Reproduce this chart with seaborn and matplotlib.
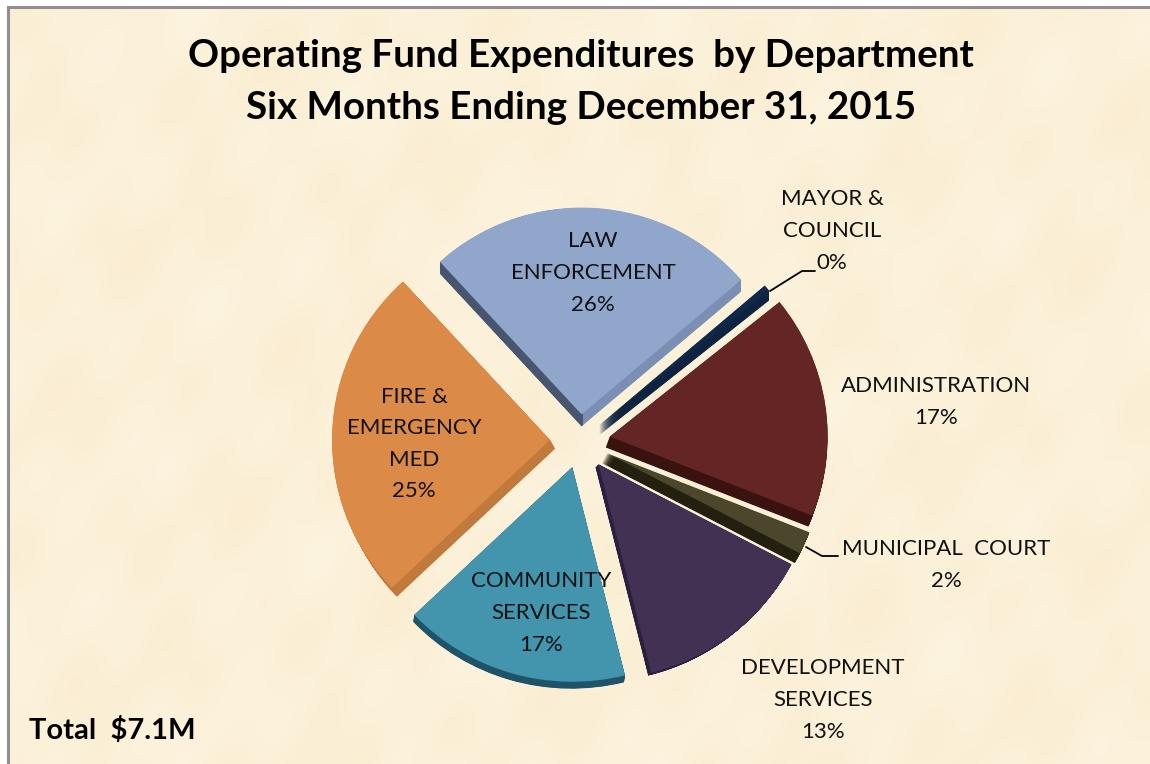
import numpy as np
import matplotlib
matplotlib.use("Agg")
import matplotlib.pyplot as plt
from matplotlib.patches import Wedge, Rectangle
import seaborn as sns

departments = ["MAYOR &\nCOUNCIL", "ADMINISTRATION", "MUNICIPAL  COURT", "DEVELOPMENT\nSERVICES",
               "COMMUNITY\nSERVICES", "FIRE &\nEMERGENCY\nMED", "LAW\nENFORCEMENT"]
values = [0.49, 16.8, 1.7, 13.4, 16.8, 25.3, 25.51]
title_lines = "Operating Fund Expenditures  by Department\nSix Months Ending December 31, 2015"
total_text = "Total  $7.1M"

top_colors = ["#10294A", "#632624", "#4C472C", "#433154", "#4395AE", "#DB8B47", "#90A6CB"]
side_colors = ["#0D2340", "#3A1210", "#23200F", "#2A1F3E", "#1F5468", "#C27A3C", "#7A8FB3"]
explode = [25, 30, 29.5, 30, 27.5, 30, 27]
radius_trim = [0, 0, 0, 0, 0, 0, 8]
rim_dx = [0, -4, -5, -3, -1, 5, 0]
rim_dy = [10, 11, 10, 3, 7, 9, 12]
label_pos = [(832, 231), (936, 402), (946, 565), (823, 700), (541, 613), (414, 444), (593, 273)]

sns.set_theme(style="white")
plt.rcParams["font.family"] = ["Lato", "DejaVu Sans"]

W, H = 1150, 764
fig = plt.figure(figsize=(W / 100, H / 100), dpi=100, facecolor="white")
ax = fig.add_axes([0, 0, 1, 1])

# parchment background (smooth deterministic mottling)
yy, xx = np.mgrid[0:H:3, 0:W:3]
m = (np.sin(xx / 37 + yy / 61) + np.sin(xx / 19 - yy / 43 + 1.3) + np.sin(xx / 83 + yy / 23 + 2.1)
     + 0.7 * np.sin(xx / 11 + yy / 17)) / 3.7
c1 = np.array([0xFD, 0xF4, 0xDF]) / 255
c2 = np.array([0xFA, 0xED, 0xD2]) / 255
t = (m[..., None] + 1) / 2
ax.imshow(c1 * (1 - t) + c2 * t, extent=(9, W, 0, H - 8), origin="upper", aspect="auto",
          interpolation="bicubic", zorder=0)
ax.plot([8, 8, W], [0, H - 7, H - 7], color="#8F8F8F", lw=2.2, zorder=1, solid_joinstyle="miter")
ax.set_xlim(0, W)
ax.set_ylim(0, H)
ax.set_aspect("auto")
ax.set_axis_off()

# pie on its own overlay axes: very slightly wider than tall
cx, cy = 580, H - 441
R = 218
squash = 0.985
pie_ax = fig.add_axes([0, 0, 1, 1], facecolor="none")
pie_args = dict(explode=explode, startangle=40.6, counterclock=False, radius=R,
                center=(cx, cy), normalize=True, frame=True)

# extruded rim: sweep each slice from its rim offset up to the top face
for frac in np.linspace(1, 0.04, 25):
    side, _ = pie_ax.pie(values, colors=side_colors, wedgeprops=dict(linewidth=0, zorder=2), **pie_args)
    for w, dx, dy, trim in zip(side, rim_dx, rim_dy, radius_trim):
        x0, y0 = w.center
        w.set_center((x0 + dx * frac, y0 - dy * frac))
        w.set_radius(R - trim)
    # law slice: the rim is darker to the left of its tip
    w = side[-1]
    dark = Wedge(w.center, w.r, w.theta1, w.theta2, facecolor="#47566E", linewidth=0, zorder=2.5)
    pie_ax.add_patch(dark)
    dark.set_clip_path(Rectangle((0, 0), w.center[0] + 1, H, transform=pie_ax.transData))

top, _ = pie_ax.pie(values, colors=top_colors, wedgeprops=dict(linewidth=0, zorder=3), **pie_args)
for w, trim in zip(top, radius_trim):
    w.set_radius(R - trim)

pie_ax.set_xlim(0, W)
pie_ax.set_ylim(cy - cy / squash, cy + (H - cy) / squash)
pie_ax.set_aspect("auto")
pie_ax.set_axis_off()

# text and leaders go on a topmost layer
txt_ax = fig.add_axes([0, 0, 1, 1], facecolor="none")
txt_ax.set_xlim(0, W)
txt_ax.set_ylim(0, H)
txt_ax.set_axis_off()

txt_ax.plot([770, 802, 815], [H - 291, H - 271, H - 271], color="black", lw=1.3)
txt_ax.plot([806, 822, 838], [H - 547, H - 556, H - 556], color="black", lw=1.3)

for name, v, (px, py) in zip(departments, values, label_pos):
    txt_ax.text(px, H - py, f"{name}\n{round(v)}%", ha="center", va="center", fontsize=16,
                color="#111111", linespacing=1.72)

txt_ax.text(581, H - 82, title_lines, ha="center", va="center", fontsize=27.7, fontweight="bold",
            color="black", linespacing=1.62)
txt_ax.text(29, H - 730, total_text, ha="left", va="center", fontsize=21, fontweight="bold",
            color="black")

fig.savefig("out.png", dpi=100, facecolor="white")
